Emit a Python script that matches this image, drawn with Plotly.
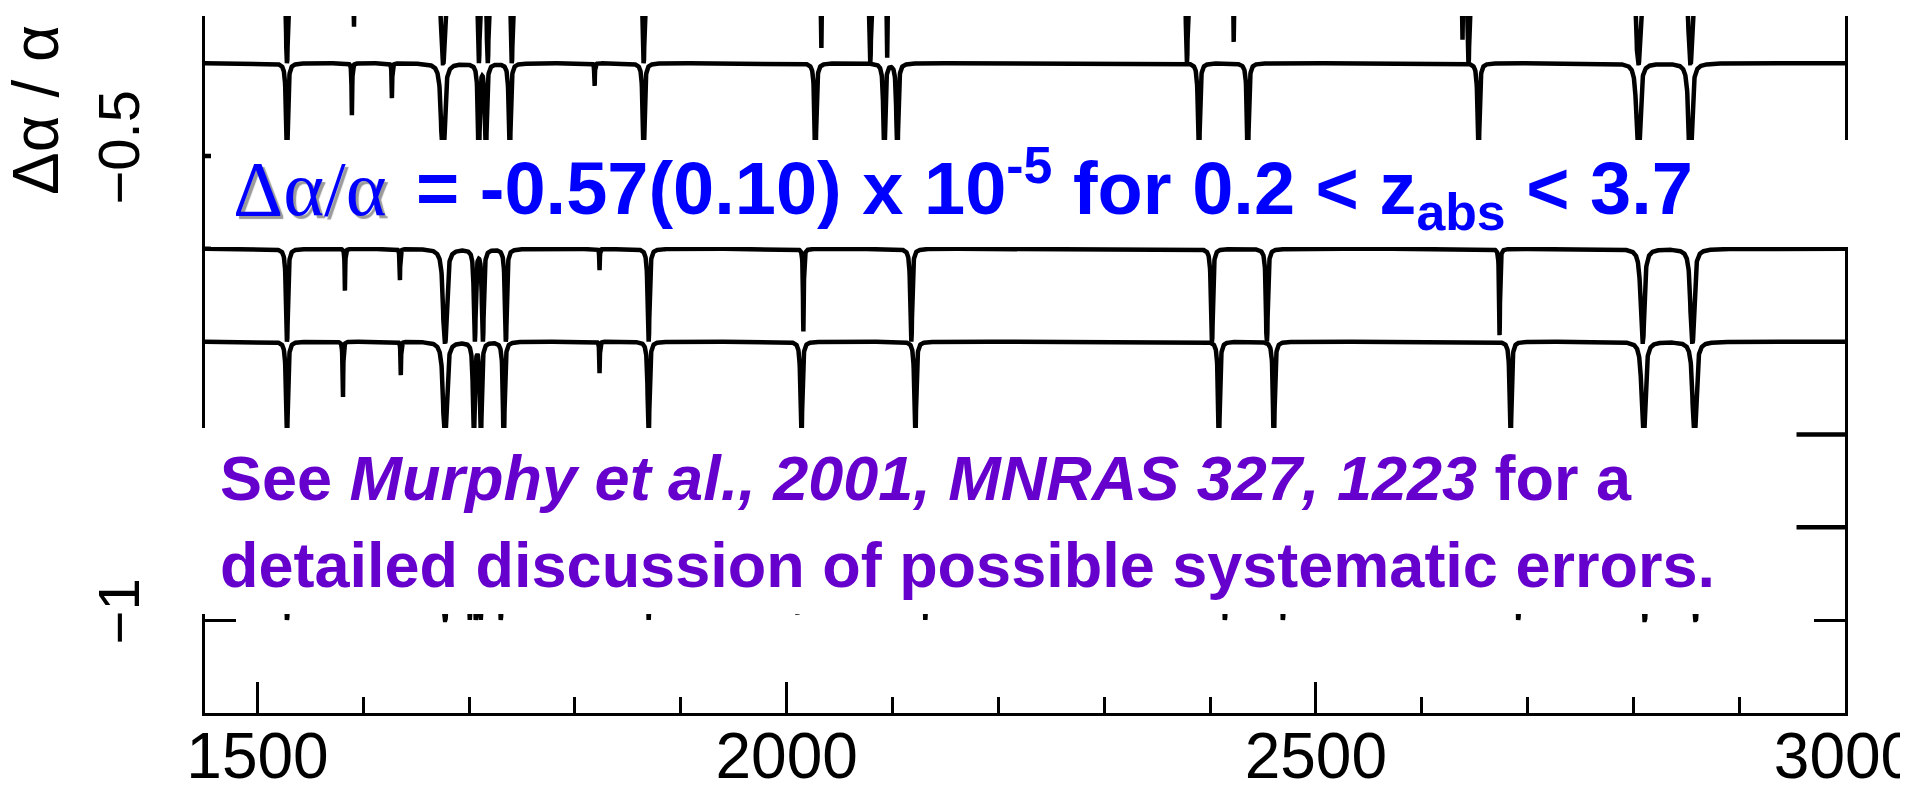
import numpy as np
import plotly.graph_objects as go

# ---------------- data ----------------
# continuum level (Δα/α units) of each stacked spectrum, top to bottom
spec_offsets = [-0.3, -0.4, -0.5, -0.6, -0.7, -0.8, -0.9]

# absorption-line centres (x units) and fractional depths (1 = saturated)
lines_T_center = [1527.8, 1591.1, 1675.1, 1709.1, 1717.5, 1740.2, 1864.8, 2032.7, 2078.9,
                  2095.0, 2378.1, 2422.4, 2638.5, 2644.2, 2804.6, 2853.7]
lines_T_depth = [1, 0.65, 1, 1, 1, 1, 1, 0.87, 1, 0.94, 1, 0.77, 0.78, 1, 1, 1]

lines_A_center = [1527.8, 1589.2, 1627.0, 1675.1, 1709.1, 1715.7, 1738.3, 1818.5, 1864.8,
                  2027.1, 2092.2, 2104.5, 2389.5, 2435.7, 2653.7, 2804.6, 2853.7]
lines_A_depth = [1, 0.56, 0.375, 1, 1, 1, 1, 0.27, 1, 1, 1, 1, 1, 1, 1, 1, 1]

lines_B_center = []
lines_B_depth = []

lines_C_center = [1527.8, 1582.6, 1634.5, 1677.0, 1705.3, 1712.9, 1734.6, 1823.2, 1869.5,
                  2015.8, 2117.7, 2401.8, 2453.7, 2673.6, 2808.6, 2855.6]
lines_C_depth = [1, 0.45, 0.37, 1, 1, 1, 1, 0.23, 1, 0.89, 1, 1, 1, 0.93, 1, 1]

lines_D_center = [1527.8, 1580.7, 1635.4, 1677.0, 1704.4, 1711.0, 1732.7, 1823.2, 1869.5,
                  2013.9, 2121.5, 2408.4, 2460.3, 2684.0, 2809.5, 2857.6]
lines_D_depth = [1, 0.64, 0.36, 1, 1, 1, 1, 0.34, 1, 1, 1, 1, 1, 1, 1, 1]

lines_E_center = []
lines_E_depth = []

lines_F_center = [1527.8, 1677.0, 1700.5, 1706.2, 1710.9, 1729.8, 1869.5, 2010.1, 2130.9,
                  2414.0, 2468.8, 2691.2, 2810.4, 2858.5]
lines_F_depth = [1, 1, 1, 1, 1, 1, 1, 0.96, 1, 1, 1, 1, 1, 1]

x_major_ticks = [1500, 2000, 2500, 3000]
x_tick_labels = ["1500", "2000", "2500", "3000"]
x_minor_ticks = [1500, 1600, 1700, 1800, 1900, 2000, 2100, 2200, 2300, 2400,
                 2500, 2600, 2700, 2800, 2900, 3000]
y_major_ticks = [-1.0, -0.5]
y_tick_labels = ["\u22121", "\u22120.5"]

all_centers = [lines_T_center, lines_A_center, lines_B_center, lines_C_center,
               lines_D_center, lines_E_center, lines_F_center]
all_depths = [lines_T_depth, lines_A_depth, lines_B_depth, lines_C_depth,
              lines_D_depth, lines_E_depth, lines_F_depth]

X_RANGE = [1450.4, 3000.0]
Y_RANGE = [-1.1002, -0.3491]

# ---------------- build spectra ----------------
x = np.arange(X_RANGE[0], X_RANGE[1] + 1e-6, 0.2)


def spectrum(offset, centers, depths):
    tau = np.zeros_like(x)
    for c, f in zip(centers, depths):
        broad = (1668 <= c <= 1686) or (2800 <= c <= 2865)
        w = 0.22 if broad else 0.28
        if f >= 0.999:
            t0 = 60.0 if broad else 10.0
        else:
            t0 = -np.log(1.0 - f)
        tau += t0 / (1.0 + ((x - c) / w) ** 2)
    flux = np.exp(-tau)
    return offset - 0.1 * (1.0 - flux)


fig = go.Figure()
for off, cs, ds in zip(spec_offsets, all_centers, all_depths):
    fig.add_trace(go.Scatter(x=x, y=spectrum(off, cs, ds), mode="lines",
                             line=dict(color="black", width=4.5),
                             hoverinfo="skip", showlegend=False))

W, H = 1908, 789
ML, MR, MT, MB = 197, 70.5, 8, 84
PW, PH = W - ML - MR, H - MT - MB


def px(xp):
    return (xp - ML) / PW


def py(yp):
    return (H - MB - yp) / PH


# white overlay boxes
fig.add_shape(type="rect", xref="paper", yref="paper", x0=px(203), x1=px(1915),
              y0=py(239), y1=py(132), fillcolor="white", line=dict(width=0), layer="above")
fig.add_shape(type="rect", xref="paper", yref="paper", x0=px(165), x1=px(1789),
              y0=py(606), y1=py(420), fillcolor="white", line=dict(width=0), layer="above")

# blue result text
fig.add_annotation(xref="paper", yref="paper", x=px(223), y=py(180), xanchor="left",
                   yanchor="middle", showarrow=False, text="Δα/α",
                   font=dict(family="Liberation Serif", size=78, color="#0000FF",
                             shadow="3px 3px 1px #9a9a9a"))
fig.add_annotation(xref="paper", yref="paper", x=px(406), y=py(181), xanchor="left",
                   yanchor="middle", showarrow=False,
                   text="= -0.57(0.10) x 10<sup>-5</sup> for 0.2 &lt; z<sub>abs</sub> &lt; 3.7",
                   font=dict(family="Liberation Sans", size=74, color="#0000FF", weight="bold"))

# purple reference text
fig.add_annotation(xref="paper", yref="paper", x=px(210), y=py(470), xanchor="left",
                   yanchor="middle", showarrow=False,
                   text="See <i>Murphy et al., 2001, MNRAS 327, 1223</i> for a",
                   font=dict(family="Liberation Sans", size=63, color="#6600CC", weight="bold"))
fig.add_annotation(xref="paper", yref="paper", x=px(210), y=py(557), xanchor="left",
                   yanchor="middle", showarrow=False,
                   text="detailed discussion of possible systematic errors.",
                   font=dict(family="Liberation Sans", size=63, color="#6600CC", weight="bold"))

# y-axis title
fig.add_annotation(xref="paper", yref="paper", x=px(28), y=py(102), xanchor="center",
                   yanchor="middle", showarrow=False, text="Δα / α", textangle=-90,
                   font=dict(family="Liberation Sans", size=64, color="black"))

fig.update_layout(
    width=W, height=H, template="none",
    margin=dict(l=ML, r=MR, t=MT, b=MB, pad=0),
    paper_bgcolor="white", plot_bgcolor="white",
    xaxis=dict(range=X_RANGE, showline=True, linecolor="black", linewidth=3,
               mirror=False, showgrid=False, zeroline=False, automargin=False,
               ticks="inside", tickvals=x_major_ticks, ticktext=x_tick_labels,
               ticklen=31, tickwidth=3, tickcolor="black",
               tickfont=dict(family="Liberation Sans", size=64, color="black"),
               ticklabelstandoff=-15, ticklabeloverflow="allow",
               minor=dict(tickvals=x_minor_ticks, ticks="inside", ticklen=16,
                          tickwidth=3, tickcolor="black", showgrid=False)),
    yaxis=dict(range=Y_RANGE, showline=True, linecolor="black", linewidth=3,
               mirror="ticks", showgrid=False, zeroline=False, automargin=False,
               ticks="inside", tickvals=y_major_ticks, ticktext=y_tick_labels,
               ticklen=31, tickwidth=3, tickcolor="black", tickangle=-90,
               tickfont=dict(family="Liberation Sans", size=58, color="black"),
               ticklabelstandoff=40, ticklabeloverflow="allow",
               minor=dict(dtick=0.1, tick0=-1.0, ticks="inside", ticklen=31,
                          tickwidth=3, tickcolor="black", showgrid=False)),
)

fig.write_html("out.html")
